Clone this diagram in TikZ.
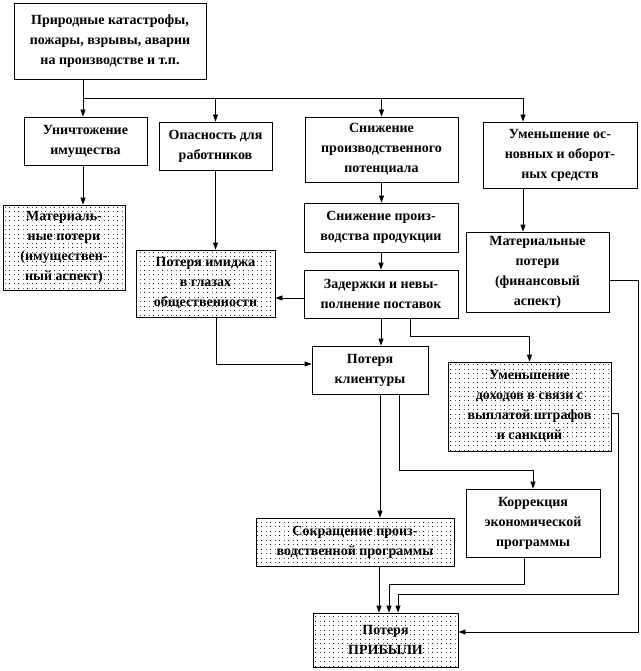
\documentclass[tikz,border=0pt]{standalone}
\usepackage{fontspec}
\setmainfont{Liberation Serif}
\usetikzlibrary{arrows.meta,patterns}
\pgfdeclarepatternformonly{sparse dots}{\pgfqpoint{-1pt}{-1pt}}{\pgfqpoint{1pt}{1pt}}{\pgfqpoint{4.5pt}{4.5pt}}{\pgfpathrectangle{\pgfqpoint{0pt}{0pt}}{\pgfqpoint{0.6pt}{0.6pt}}\pgfusepath{fill}}

\tikzset{
  box/.style={draw, line width=0.8pt, align=center, inner sep=2pt,
    font=\fontsize{14}{20}\selectfont\bfseries},
  dotbox/.style={box, pattern=sparse dots},
  link/.style={line width=0.8pt, -{Triangle[length=7pt,width=5pt]}},
  wire/.style={line width=0.8pt},
}

\begin{document}
\begin{tikzpicture}[x=1pt, y=-1pt]
    \useasboundingbox (0,0) rectangle (640,671);
    % source box
    \node[box, minimum width=192pt, minimum height=76pt] (src) at (110,41)
      {Природные катастрофы,\\пожары, взрывы, аварии\\на производстве и т.п.};
    % first level
    \node[box, minimum width=123pt, minimum height=48pt] (destr) at (85.5,141)
      {Уничтожение\\имущества};
    \node[box, minimum width=113pt, minimum height=48pt] (danger) at (215.5,146)
      {Опасность для\\работников};
    \node[box, minimum width=153pt, minimum height=65pt] (potential) at (381.5,149.5)
      {Снижение\\производственного\\потенциала};
    \node[box, minimum width=154pt, minimum height=66pt] (assets) at (560,155)
      {Уменьшение ос-\\новных и оборот-\\ных средств};
    % second level
    \node[dotbox, minimum width=122pt, minimum height=85pt] (matloss) at (64,247.5)
      {Материаль-\\ные потери\\(имуществен-\\ный аспект)};
    \node[box, minimum width=154pt, minimum height=49pt] (output) at (381,227.5)
      {Снижение произ-\\водства продукции};
    \node[box, minimum width=143pt, minimum height=80pt] (finloss) at (537.5,272)
      {Материальные\\потери\\(финансовый\\аспект)};
    \node[dotbox, minimum width=139pt, minimum height=67pt] (image) at (205.5,283.5)
      {Потеря имиджа\\в глазах\\общественности};
    \node[box, minimum width=154pt, minimum height=48pt] (delays) at (381,294)
      {Задержки и невы-\\полнение поставок};
    % lower part
    \node[box, minimum width=116pt, minimum height=48pt] (clients) at (370,370)
      {Потеря\\клиентуры};
    \node[dotbox, minimum width=163pt, minimum height=89pt] (income) at (529.5,406.5)
      {Уменьшение\\доходов в связи с\\выплатой штрафов\\и санкций};
    \node[box, minimum width=134pt, minimum height=68pt] (correction) at (533,523)
      {Коррекция\\экономической\\программы};
    \node[dotbox, minimum width=198pt, minimum height=48pt] (cut) at (355,542)
      {Сокращение  произ-\\водственной программы};
    \node[dotbox, minimum width=145pt, minimum height=54pt] (profit) at (385.5,640)
      {Потеря\\ПРИБЫЛИ};
    % guide points for the wires
    \coordinate (bus) at (83,98);
    \coordinate (rbus) at (523,98);
    \coordinate (cl1) at (380,0);
    \coordinate (cl2) at (399,0);
    \coordinate (in1) at (379,0);
    \coordinate (in2) at (389,0);
    \coordinate (in3) at (398,0);
    % from the source
    \draw[wire] (src.south -| bus) -- (bus) -- (rbus);
    \draw[link] (bus) -- (bus |- destr.north);
    \draw[link] (danger.north |- bus) -- (danger.north);
    \draw[link] (potential.north |- bus) -- (potential.north);
    \draw[link] (rbus) -- (rbus |- assets.north);
    % down the columns
    \draw[link] (bus |- destr.south) -- (bus |- matloss.north);
    \draw[link] (danger.south) -- (danger.south |- image.north);
    \draw[link] (potential.south) -- (potential.south |- output.north);
    \draw[link] (output.south) -- (delays.north);
    \draw[link] (rbus |- assets.south) -- (rbus |- finloss.north);
    % from the delays
    \draw[link] (delays.west |- 0,298) -- (image.east |- 0,298);
    \draw[link] (delays.south) -- (delays.south |- clients.north);
    \draw[link] ([xshift=29pt]delays.south) -- ++(0,18) -| (income.north);
    \draw[link] ([xshift=11pt]image.south) |- ([yshift=6pt]clients.west);
    % from the clients
    \draw[link] (cl1 |- clients.south) -- (cl1 |- cut.north);
    \draw[link] (cl2 |- clients.south) -- (cl2 |- 0,470) -| (correction.north);
    % into the profit
    \draw[link] (in1 |- cut.south) -- (in1 |- profit.north);
    \draw[link] ([xshift=-9pt]correction.south) -- ++(0,27) -| (in2 |- profit.north);
    \draw[link] (income.east |- 0,413) -| (618,594) -| (in3 |- profit.north);
    \draw[link] (finloss.east |- 0,280) -| (638,632) -- (profit.east |- 0,632);
\end{tikzpicture}
\end{document}
